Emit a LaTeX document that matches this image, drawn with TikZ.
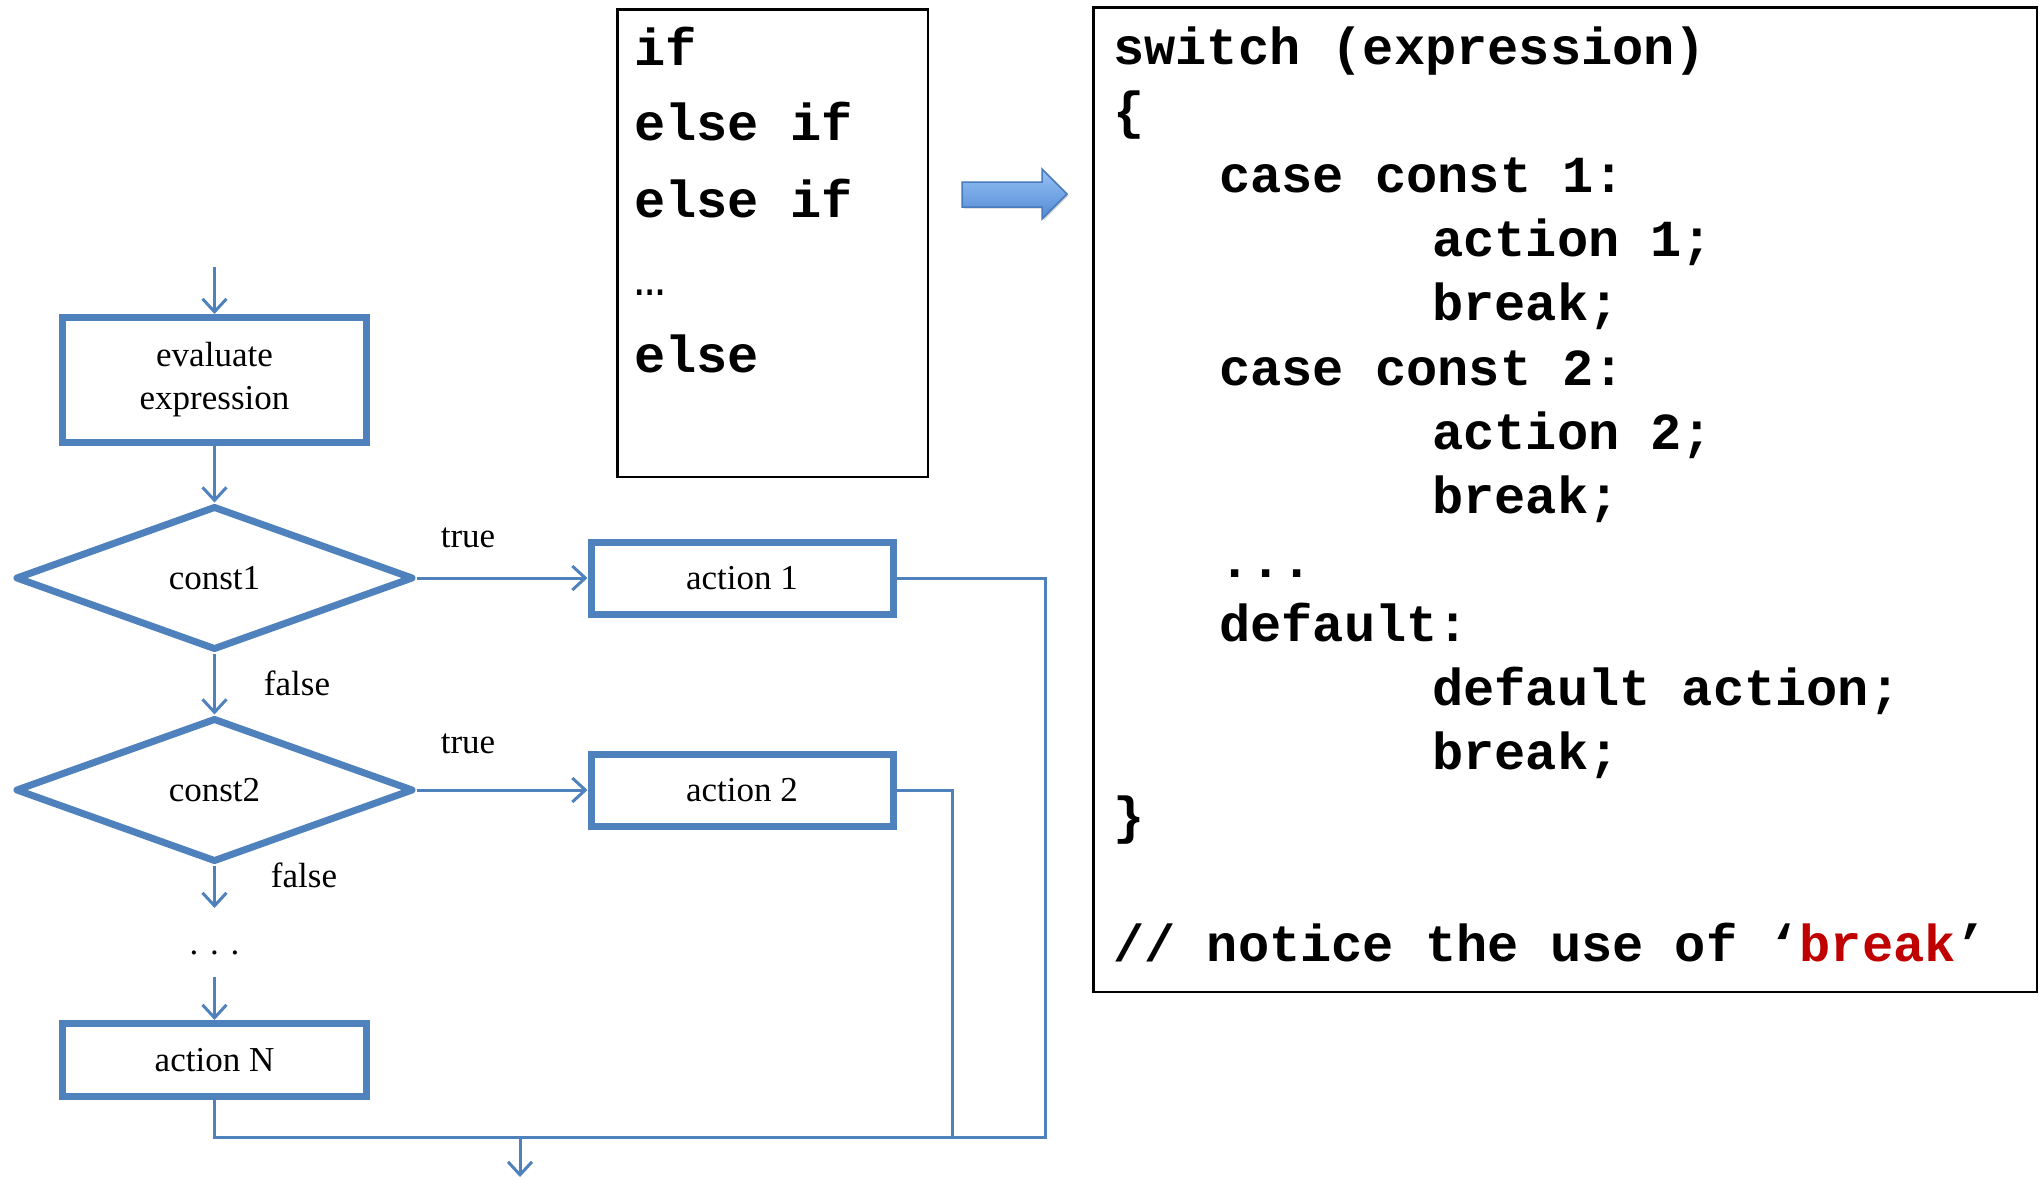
\documentclass[tikz,border=0pt]{standalone}
\usepackage{fontspec}
\setmainfont{Liberation Serif}
\newfontfamily\codefont{Liberation Mono}
\usetikzlibrary{shapes.geometric,arrows.meta,shadows}
\definecolor{flowblue}{RGB}{79,129,189}
\definecolor{breakred}{RGB}{192,0,0}
\definecolor{arrowtop}{RGB}{152,194,246}
\definecolor{arrowbot}{RGB}{82,138,212}
\definecolor{arrowedge}{RGB}{72,122,188}
\begin{document}
\begin{tikzpicture}[x=1pt,y=-1pt,
  flowfont/.style={font=\fontsize{35}{43}\selectfont},
  flowbox/.style={draw=flowblue, line width=7pt, rectangle, inner sep=0pt,
    minimum width=302pt, minimum height=72pt, align=center, flowfont},
  decision/.style={draw=flowblue, line width=7pt, diamond, inner sep=0pt,
    minimum width=398pt, minimum height=144pt, line join=round, flowfont},
  conn/.style={draw=flowblue, line width=3pt},
  flowarrow/.style={conn, -{Straight Barb[length=13pt, width=24pt]}},
  flowlabel/.style={flowfont, anchor=base, inner sep=0pt},
  codebox/.style={draw=black, line width=2.5pt, rectangle, inner sep=0pt},
  codeline/.style={font=\codefont\bfseries\fontsize{52}{60}\selectfont,
    anchor=base west, inner sep=0pt},
  codeplain/.style={font=\codefont\fontsize{52}{60}\selectfont,
    anchor=base west, inner sep=0pt},
]
\useasboundingbox (0,0) rectangle (2040,1179);

% ---------- flowchart ----------
\node[flowbox, minimum width=304pt, minimum height=125pt] (eval) at (214.5,380)
  {evaluate\\expression};
\node[decision] (c1) at (214.5,578) {const1};
\node[flowbox] (a1) at (742,578) {action 1};
\node[decision] (c2) at (214.5,790) {const2};
\node[flowbox] (a2) at (742,790) {action 2};
\node[flowbox, minimum width=304pt, minimum height=73pt] (aN) at (214.5,1060) {action N};

\node[flowlabel] (t1) at (468,547) {true};
\node[flowlabel] (f1) at (297,695) {false};
\node[flowlabel] (t2) at (468,753) {true};
\node[flowlabel] (f2) at (304,887) {false};
\node[flowlabel] (dots) at (214.5,954) {.\,\,.\,\,.};

\coordinate (entry) at (214.5,267);
\coordinate (c2out) at (214.5,908);
\coordinate (dotsout) at (214.5,977);
\coordinate (r1) at (1045,1137);
\coordinate (r2) at (952,1137);
\coordinate (rN) at (214.5,1137);
\coordinate (exit0) at (520,1137);
\coordinate (exit1) at (520,1177);

\draw[flowarrow] (entry) -- (eval.north);
\draw[flowarrow] (eval.south) -- (c1.north);
\draw[flowarrow] (c1.east) -- (a1.west);
\draw[flowarrow] (c1.south) -- (c2.north);
\draw[flowarrow] (c2.east) -- (a2.west);
\draw[flowarrow] (c2.south) -- (c2out);
\draw[flowarrow] (dotsout) -- (aN.north);

\draw[conn] (a1.east) -| (r1) -- (rN) -- (aN.south);
\draw[conn] (a2.east) -| (r2);
\draw[flowarrow] (exit0) -- (exit1);

% ---------- if / else-if chain ----------
\node[codebox, minimum width=310.5pt, minimum height=467.5pt] (ifbox) at (772.5,243) {};
\node[codeline] (if1) at (634,65) {if};
\node[codeline] (if2) at (634,140) {else if};
\node[codeline] (if3) at (634,217) {else if};
\node[codeplain] (if4) at (634,295) {…};
\node[codeline] (if5) at (634,372) {else};

% ---------- block arrow ----------
\path[drop shadow={opacity=0.35, shadow xshift=1.5pt, shadow yshift=-1.5pt},
      top color=arrowtop, bottom color=arrowbot, draw=arrowedge, line width=1.5pt,
      line join=miter]
  (962,182) -- (1042,182) -- (1042,169) -- (1067,194) -- (1042,219)
  -- (1042,207) -- (962,207) -- cycle;

% ---------- switch statement ----------
\node[codebox, minimum width=943.5pt, minimum height=984.5pt] (swbox) at (1565,499.5) {};
\node[codeline] (s1)  at (1113,64)  {switch (expression)};
\node[codeline] (s2)  at (1113,128) {\{};
\node[codeline] (s3)  at (1219,192) {case const 1:};
\node[codeline] (s4)  at (1432,256) {action 1;};
\node[codeline] (s5)  at (1432,320) {break;};
\node[codeline] (s6)  at (1219,385) {case const 2:};
\node[codeline] (s7)  at (1432,449) {action 2;};
\node[codeline] (s8)  at (1432,513) {break;};
\node[codeline] (s9)  at (1219,577) {...};
\node[codeline] (s10) at (1219,641) {default:};
\node[codeline] (s11) at (1432,705) {default action;};
\node[codeline] (s12) at (1432,769) {break;};
\node[codeline] (s13) at (1113,833) {\}};
\node[codeline] (s14) at (1113,961) {// notice the use of ‘\textcolor{breakred}{break}’};
\end{tikzpicture}
\end{document}
